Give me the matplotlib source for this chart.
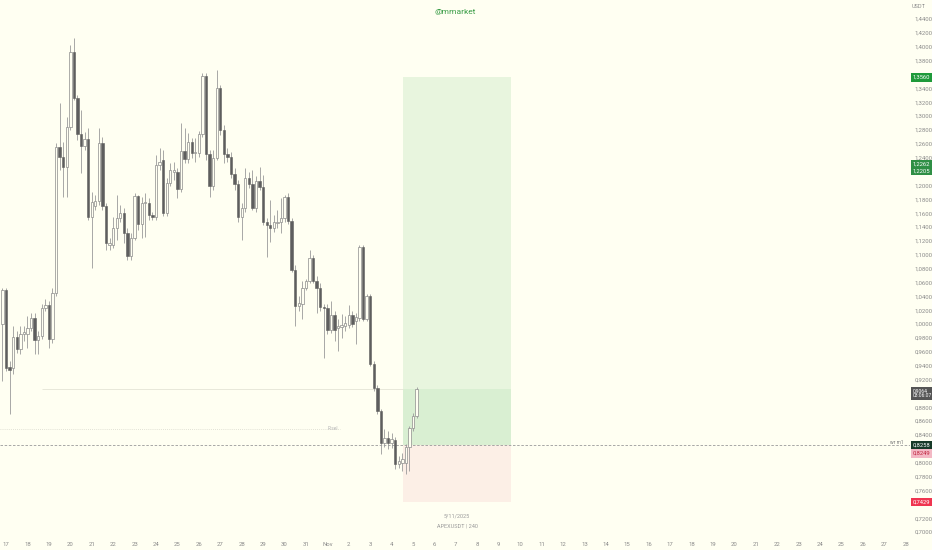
import numpy as np
import matplotlib
matplotlib.use('Agg')
import matplotlib.pyplot as plt
import matplotlib.transforms as mtransforms

# ── Data: APEXUSDT 4h candles ─────────────────────────────────────────────────
# index 0 = 17 Oct 00:00, one step = one 4h bar
FIRST_BAR = -1

opens = [1.0007, 1.0498, 0.9385, 0.9371, 0.9819, 0.9645, 0.9862, 0.9862, 0.9949, 1.0093,
         0.9775, 0.9833, 1.0238, 1.0281, 0.9790, 1.0455, 1.2550, 1.2406, 1.2261, 1.2840,
         1.3923, 1.3259, 1.2738, 1.2565, 1.2666, 1.1539, 1.1698, 1.1770, 1.2608, 1.1698,
         1.1134, 1.1134, 1.1380, 1.1524, 1.1597, 1.1307, 1.0975, 1.1235, 1.1842, 1.1437,
         1.1741, 1.1741, 1.1568, 1.1539, 1.2290, 1.2363, 1.1597, 1.2030, 1.2189, 1.2189,
         1.1943, 1.2493, 1.2377, 1.2623, 1.2464, 1.2464, 1.2738, 1.3577, 1.2449, 1.1987,
         1.2391, 1.3403, 1.2796, 1.2449, 1.2406, 1.2160, 1.2016, 1.1539, 1.1669, 1.2102,
         1.2016, 1.1669, 1.2059, 1.1972, 1.1466, 1.1423, 1.1380, 1.1452, 1.1466, 1.1524,
         1.1828, 1.1481, 1.0773, 1.0267, 1.0296, 1.0527, 1.0628, 1.0946, 1.0628, 1.0527,
         1.0252, 1.0238, 0.9920, 1.0137, 0.9949, 0.9963, 0.9978, 0.9992, 1.0137, 1.0050,
         1.0093, 1.1105, 1.0079, 1.0411, 0.9429, 0.9082, 0.8749, 0.8287, 0.8359, 0.8287,
         0.8330, 0.7983, 0.7998, 0.7998, 0.8229, 0.8504, 0.8677]
highs = [1.0527, 1.0527, 0.9472, 0.9978, 0.9906, 0.9978, 0.9978, 1.0122, 1.0166, 1.0166,
         0.9906, 1.0296, 1.0368, 1.0339, 1.0513, 1.2608, 1.3186, 1.2623, 1.2984, 1.4025,
         1.4126, 1.3302, 1.3085, 1.2767, 1.2825, 1.1900, 1.1857, 1.2825, 1.2695, 1.1741,
         1.1235, 1.1539, 1.1857, 1.1712, 1.1669, 1.1380, 1.1307, 1.1886, 1.1857, 1.1828,
         1.1886, 1.1813, 1.1611, 1.2435, 1.2536, 1.2507, 1.2102, 1.2319, 1.2334, 1.2247,
         1.2897, 1.2825, 1.2753, 1.2680, 1.2680, 1.2782, 1.3620, 1.3620, 1.2507, 1.2507,
         1.3663, 1.3447, 1.2868, 1.2536, 1.2478, 1.2247, 1.2073, 1.1741, 1.2247, 1.2189,
         1.2218, 1.2131, 1.2261, 1.2146, 1.1524, 1.1784, 1.1568, 1.1640, 1.1813, 1.1857,
         1.1886, 1.1524, 1.0845, 1.0411, 1.0628, 1.0657, 1.1062, 1.0990, 1.0686, 1.0585,
         1.0296, 1.0296, 1.0339, 1.0195, 1.0079, 1.0151, 1.0122, 1.0281, 1.0195, 1.0166,
         1.1134, 1.1134, 1.0440, 1.0440, 0.9472, 0.9125, 0.8778, 0.8489, 0.8460, 0.8431,
         0.8373, 0.8099, 0.8142, 0.8272, 0.8533, 0.8720, 0.9096]
lows = [0.9183, 0.9327, 0.8706, 0.9284, 0.9588, 0.9573, 0.9761, 0.9660, 0.9906, 0.9573,
        0.9573, 0.9790, 1.0195, 0.9660, 0.9732, 1.0411, 1.2218, 1.1828, 1.1828, 1.2796,
        1.3230, 1.2652, 1.2175, 1.2507, 1.1495, 1.0802, 1.1640, 1.1712, 1.1640, 1.1062,
        1.1062, 1.1091, 1.1206, 1.1466, 1.1163, 1.0917, 1.0917, 1.1206, 1.1351, 1.1235,
        1.1250, 1.1495, 1.1495, 1.1495, 1.2218, 1.1553, 1.1553, 1.1987, 1.2073, 1.1813,
        1.1900, 1.2319, 1.2319, 1.2391, 1.2334, 1.2406, 1.2695, 1.2363, 1.1828, 1.1929,
        1.2363, 1.2724, 1.2319, 1.2334, 1.2102, 1.1929, 1.1466, 1.1206, 1.1611, 1.1958,
        1.1640, 1.1611, 1.1929, 1.1423, 1.0961, 1.1177, 1.1322, 1.1380, 1.1307, 1.1466,
        1.1437, 1.0744, 0.9978, 1.0195, 1.0079, 1.0484, 1.0585, 1.0599, 1.0166, 1.0195,
        0.9515, 0.9862, 0.9877, 0.9761, 0.9616, 0.9804, 0.9906, 0.9949, 0.9963, 0.9717,
        1.0050, 1.0050, 1.0050, 0.9400, 0.9038, 0.8706, 0.8128, 0.8229, 0.8200, 0.8215,
        0.7911, 0.7926, 0.7882, 0.7839, 0.7882, 0.8460, 0.8648]
closes = [1.0498, 0.9371, 0.9342, 0.9819, 0.9645, 0.9862, 0.9891, 0.9949, 1.0093, 0.9775,
          0.9833, 1.0238, 1.0281, 0.9790, 1.0455, 1.2550, 1.2406, 1.2261, 1.2840, 1.3923,
          1.3259, 1.2738, 1.2565, 1.2666, 1.1539, 1.1755, 1.1770, 1.2608, 1.1698, 1.1163,
          1.1163, 1.1380, 1.1524, 1.1597, 1.1307, 1.0975, 1.1235, 1.1842, 1.1437, 1.1741,
          1.1755, 1.1568, 1.1539, 1.2290, 1.2334, 1.1597, 1.2030, 1.2218, 1.2218, 1.1943,
          1.2493, 1.2377, 1.2623, 1.2464, 1.2478, 1.2738, 1.3577, 1.2449, 1.1987, 1.2391,
          1.3403, 1.2796, 1.2449, 1.2406, 1.2160, 1.2016, 1.1539, 1.1669, 1.2102, 1.2016,
          1.1669, 1.2059, 1.1972, 1.1466, 1.1423, 1.1380, 1.1466, 1.1466, 1.1524, 1.1828,
          1.1481, 1.0773, 1.0267, 1.0310, 1.0527, 1.0628, 1.0946, 1.0628, 1.0527, 1.0252,
          1.0238, 0.9920, 1.0137, 0.9920, 0.9978, 0.9992, 1.0021, 1.0137, 1.0007, 1.0108,
          1.1105, 1.0079, 1.0411, 0.9429, 0.9082, 0.8749, 0.8287, 0.8359, 0.8287, 0.8345,
          0.7983, 0.8027, 0.8056, 0.8229, 0.8504, 0.8677, 0.9064]

day_labels = [str(d) for d in range(17, 32)] + ['Nov'] + [str(d) for d in range(2, 29)]
price_ticks = [round(0.70 + 0.02 * k, 2) for k in range(38)]

# long position tool
target_price  = 1.3560
entry_price   = 0.8258
stop_price    = 0.7429
current_price = 0.9064
level_a, level_b = 1.2262, 1.2205
sel_level = 0.8489

# ── Style ────────────────────────────────────────────────────────────────────
BG      = '#fffff2'
BEAR    = '#5e5e5e'
BULL_E  = '#8c8c8c'
WICK    = '#9a9a9a'
AXTXT   = '#8a8a8a'
GREEN   = '#1f9a3a'

plt.rcParams.update({
    'font.family': ['Roboto', 'DejaVu Sans'],
    'font.size': 4.5,
})

W, H = 932, 550
fig = plt.figure(figsize=(W / 100, H / 100), dpi=100, facecolor=BG)
ax = fig.add_axes([0, 14 / H, 910 / W, 536 / H], facecolor=BG)

PX_PER_BAR = 3.57
x_left = -1.7
ax.set_xlim(x_left, x_left + 910 / PX_PER_BAR)
ax.set_ylim(0.6942, 1.4675)
for s in ax.spines.values():
    s.set_visible(False)

idx = np.arange(FIRST_BAR, FIRST_BAR + len(opens))
o, h, l, c = map(np.array, (opens, highs, lows, closes))
up = c >= o

# position zones
box_l, box_r = 111.2, 141.4
ax.fill_between([box_l, box_r], current_price, target_price, color='#e8f5de', lw=0, zorder=0.5)
ax.fill_between([box_l, box_r], entry_price, current_price, color='#d9efd2', lw=0, zorder=0.5)
ax.fill_between([box_l, box_r], stop_price, entry_price, color='#fcefe6', lw=0, zorder=0.5)

# horizontal lines
ax.axhline(entry_price, color='#9a9a9a', lw=0.6, ls=(0, (3, 2)), zorder=1)
ax.hlines(current_price, 10, box_l, color='#e4e4d6', lw=0.6, zorder=1)
ax.hlines(sel_level, x_left, 93.5, color='#d8d8cc', lw=0.6, ls=(0, (1, 1.5)), zorder=1)
ax.text(91.5, sel_level, 'R.sel', color='#b5b5b5', fontsize=3.5, va='center', ha='center')
ax.text(251.5, entry_price + 0.004, 'wr m1', color='#777777', fontsize=3.5,
        va='center', ha='right')

# candles
ax.vlines(idx, l, h, color=WICK, lw=0.6, zorder=2)
body_lo = np.minimum(o, c)
body_h = np.maximum(np.abs(c - o), 0.0012)
ax.bar(idx[up], body_h[up], bottom=body_lo[up], width=0.66,
       color=BG, edgecolor=BULL_E, lw=0.5, zorder=3)
ax.bar(idx[~up], body_h[~up], bottom=body_lo[~up], width=0.66,
       color=BEAR, edgecolor=BEAR, lw=0.4, zorder=3)

# axes ticks (scale labels hidden where a price tag sits on top of them)
tags = [target_price, level_a, level_b, current_price - 0.005, entry_price,
        entry_price - 0.0125, stop_price]
shown = [p for p in price_ticks if min(abs(p - t) for t in tags) > 0.009]
ax.set_xticks(np.arange(len(day_labels)) * 6)
ax.set_xticklabels(day_labels)
ax.tick_params(axis='x', length=0, pad=4, colors=AXTXT, labelsize=4.3)
ax.yaxis.tick_right()
ax.set_yticks(shown)
ax.set_yticklabels([f'{p:.4f}'.replace('.', ',') for p in shown])
ax.tick_params(axis='y', length=0, pad=3, colors=AXTXT, labelsize=4.3)

# price labels on the right scale
trans = mtransforms.blended_transform_factory(ax.transAxes, ax.transData)


def price_tag(price, text, fc, tc='white', dy=0, size=4.2):
    ax.annotate(text, xy=(1.0, price), xycoords=trans, xytext=(2.0, dy),
                textcoords='offset points', ha='left', va='center',
                fontsize=size, color=tc, zorder=10, annotation_clip=False,
                linespacing=1.0,
                bbox=dict(boxstyle='square,pad=0.3', fc=fc, ec='none'))


price_tag(target_price, '1,3560', GREEN)
price_tag(level_a, '1,2262', '#2f8f45', dy=2.2)
price_tag(level_b, '1,2205', '#2f8f45', dy=0.2)
price_tag(current_price, '0,9064\n03:06:07', '#555555', dy=-3.2, size=3.6)
price_tag(entry_price, '0,8258', '#173a28')
price_tag(entry_price - 0.0125, '0,8249', '#f3b8c4', tc='#c0273f')
price_tag(stop_price, '0,7429', '#ef3550')

# texts
fig.text(455 / W, 1 - 12 / H, '@mmarket', color='#3a9d47', fontsize=6,
         ha='center', va='center')
fig.text(919 / W, 1 - 7 / H, 'USDT', color=AXTXT, fontsize=4, ha='center', va='center')
fig.text(457 / W, 1 - 516 / H, '5/11/2025', color='#9a9a9a', fontsize=4,
         ha='center', va='center')
fig.text(457 / W, 1 - 526 / H, 'APEXUSDT | 240', color='#9a9a9a', fontsize=4,
         ha='center', va='center')

fig.savefig('out.png', dpi=100, facecolor=BG)
